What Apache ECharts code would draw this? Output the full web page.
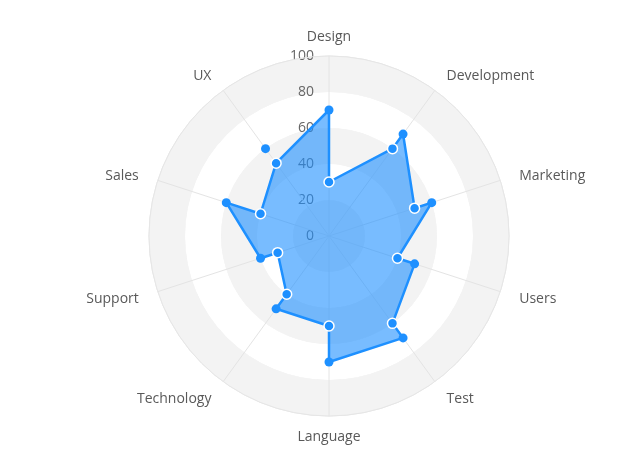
<!DOCTYPE html>
<html>
<head>
<meta charset="utf-8">
<script src="https://cdn.jsdelivr.net/npm/echarts@6/dist/echarts.min.js"></script>
<style>
html,body{margin:0;padding:0;background:#ffffff;}
#chart{width:623px;height:467px;}
</style>
</head>
<body>
<div id="chart"></div>
<script>
// ---- data ----
const categories = ['Design', 'Development', 'Marketing', 'Users', 'Test', 'Language', 'Technology', 'Support', 'Sales', 'UX'];
const outerValues = [70, 70, 60, 50, 70, 70, 50, 40, 60, 60];
const innerValues = [30, 60, 50, 40, 60, 50, 40, 30, 40, 50];
const radiusTicks = [0, 20, 40, 60, 80, 100];
// order in which the outline visits the points: [set, category index]
const outlineOrder = [
  ['outer', 0], ['inner', 0], ['inner', 1], ['outer', 1], ['inner', 2], ['outer', 2],
  ['inner', 3], ['outer', 3], ['inner', 4], ['outer', 4], ['outer', 5], ['inner', 5],
  ['outer', 6], ['inner', 6], ['inner', 7], ['outer', 7], ['outer', 8], ['inner', 8],
  ['inner', 9], ['outer', 0]
];

const FONT = "'Segoe UI', 'Open Sans', sans-serif";
const BLUE = '#1e90ff';
// each category occupies an equal slice of the full turn on a value angle axis
const STEP = 360 / categories.length;

const outlineData = outlineOrder.map(function (p) {
  const vals = p[0] === 'outer' ? outerValues : innerValues;
  return [vals[p[1]], p[1] * STEP];
});
const outerData = outerValues.map(function (v, k) { return [v, k * STEP]; });
const innerData = innerValues.map(function (v, k) { return [v, k * STEP]; });

const chart = echarts.init(document.getElementById('chart'), null, { renderer: 'canvas' });
chart.setOption({
  backgroundColor: '#ffffff',
  animation: false,
  polar: { center: [329, 236], radius: 180 },
  angleAxis: {
    type: 'value',
    min: 0,
    max: 360,
    interval: STEP,
    startAngle: 90,
    clockwise: true,
    z: 1,
    axisLine: { show: true, lineStyle: { color: '#e6e6e6', width: 1 } },
    axisTick: { show: false },
    axisLabel: {
      margin: 20, fontSize: 14, color: '#595959', fontFamily: FONT,
      lineHeight: 1, padding: [1, 0, -2, 0],
      formatter: function (v) {
        const k = Math.round(v / STEP);
        return k < categories.length ? categories[k] : '';
      }
    },
    splitLine: { show: true, lineStyle: { color: '#e4e4e4', width: 1 } }
  },
  radiusAxis: {
    type: 'value',
    min: 0,
    max: 100,
    interval: 20,
    z: 0,
    axisLine: { show: false },
    axisTick: { show: false },
    axisLabel: {
      margin: 15, fontSize: 14, color: '#666666', fontFamily: FONT,
      formatter: function (v) { return radiusTicks.indexOf(v) >= 0 ? String(v) : ''; }
    },
    splitLine: { show: true, lineStyle: { color: '#e6e6e6', width: 1 } },
    splitArea: { show: true, areaStyle: { color: ['#f3f3f3', '#ffffff'] } }
  },
  series: [
    {
      type: 'line',
      coordinateSystem: 'polar',
      data: outlineData,
      clip: false,
      symbol: 'none',
      showSymbol: false,
      lineStyle: { color: BLUE, width: 2.5 },
      itemStyle: { color: BLUE },
      areaStyle: { color: BLUE, opacity: 0.6 },
      z: 2
    },
    {
      type: 'scatter',
      coordinateSystem: 'polar',
      data: outerData,
      clip: false,
      symbol: 'circle',
      symbolSize: 9,
      itemStyle: { color: BLUE, opacity: 1 },
      z: 3
    },
    {
      type: 'scatter',
      coordinateSystem: 'polar',
      data: innerData,
      clip: false,
      symbol: 'circle',
      symbolSize: 10,
      itemStyle: { color: BLUE, opacity: 1, borderColor: '#ffffff', borderWidth: 1.5 },
      z: 4
    }
  ]
});
</script>
</body>
</html>
